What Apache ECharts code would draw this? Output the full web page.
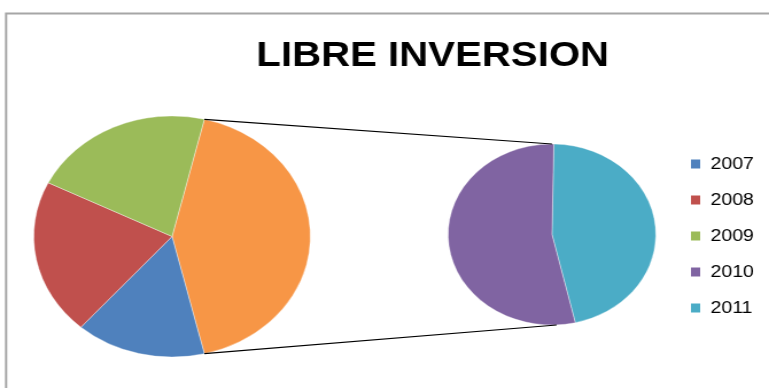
<!DOCTYPE html>
<html>
<head>
<meta charset="utf-8">
<script src="https://cdn.jsdelivr.net/npm/echarts@6/dist/echarts.min.js"></script>
<style>
  html, body { margin: 0; padding: 0; background: #fff; overflow: hidden; }
  #wrap { width: 769px; height: 388px; overflow: hidden; position: relative; }
  #chart { width: 670px; height: 388px; transform: scaleX(1.1478); transform-origin: 0 0; }
</style>
</head>
<body>
<div id="wrap"><div id="chart"></div></div>
<script>
// ---- data ----
var titleText = 'LIBRE INVERSION';
var mainCategories = ['2007', '2008', '2009'];
var mainValues = [15.2, 20.9, 21.4];
var subCategories = ['2011', '2010'];
var subValues = [19.6, 22.9];
var legendOrder = ['2007', '2008', '2009', '2010', '2011'];
var colorsByName = {
  '2007': '#4F81BD', '2008': '#C0504D', '2009': '#9BBB59',
  '2010': '#8064A2', '2011': '#4BACC6', 'Other': '#F79646'
};

// ---- layout (unscaled coordinates) ----
var leftC = [149.9, 236.5], leftR = 120.5;
var rightC = [480.9, 234.5], rightR = 90.5;
var leftStart = 76.5;   // degrees, ECharts convention (90 = top, clockwise)
var rightStart = 89;

var otherValue = subValues.reduce(function (a, b) { return a + b; }, 0);
var mainTotal = otherValue + mainValues.reduce(function (a, b) { return a + b; }, 0);

var mainData = [{ name: 'Other', value: otherValue, itemStyle: { color: colorsByName['Other'] } }];
mainCategories.forEach(function (c, i) {
  mainData.push({ name: c, value: mainValues[i], itemStyle: { color: colorsByName[c] } });
});
var subData = subCategories.map(function (c, i) {
  return { name: c, value: subValues[i], itemStyle: { color: colorsByName[c] } };
});

// connector endpoints computed from the "Other" slice angles
function pt(c, r, degEc) {
  var a = degEc * Math.PI / 180;
  return [c[0] + r * Math.cos(a), c[1] - r * Math.sin(a)];
}
var otherSweep = otherValue / mainTotal * 360;
var pTopL = pt(leftC, leftR, leftStart);
var pBotL = pt(leftC, leftR, leftStart - otherSweep);
var pTopR = [rightC[0], rightC[1] - rightR];
var pBotR = [rightC[0] + 4, rightC[1] + rightR];

var chart = echarts.init(document.getElementById('chart'), null, { renderer: 'canvas' });
var pieCommon = {
  type: 'pie',
  clockwise: true,
  label: { show: false },
  labelLine: { show: false },
  emphasis: { disabled: true },
  silent: true,
  itemStyle: { borderColor: 'rgba(255,255,255,0.6)', borderWidth: 0.6 }
};
chart.setOption({
  animation: false,
  title: {
    text: titleText,
    left: 372,
    top: 34,
    textAlign: 'center',
    textStyle: { fontFamily: 'Liberation Sans, Arial, sans-serif', fontWeight: 'bold', fontSize: 35, color: '#000' }
  },
  legend: {
    orient: 'vertical',
    left: 602,
    top: 154,
    padding: 0,
    itemWidth: 8,
    itemHeight: 9,
    itemGap: 16,
    icon: 'rect',
    selectedMode: false,
    itemStyle: { borderWidth: 0 },
    data: legendOrder,
    textStyle: { fontFamily: 'Liberation Sans, Arial, sans-serif', fontSize: 17, color: '#000', lineHeight: 20, padding: [0, 0, 0, 4] }
  },
  graphic: [
    { type: 'rect', shape: { x: 5.3, y: 13.5, width: 2000, height: 2000 }, style: { fill: 'none', stroke: '#A6A6A6', lineWidth: 2 }, silent: true, z: 0 },
    { type: 'line', shape: { x1: pTopL[0], y1: pTopL[1], x2: pTopR[0], y2: pTopR[1] }, style: { stroke: '#000', lineWidth: 1.2 }, silent: true, z: 10 },
    { type: 'line', shape: { x1: pBotL[0], y1: pBotL[1], x2: pBotR[0], y2: pBotR[1] }, style: { stroke: '#000', lineWidth: 1.2 }, silent: true, z: 10 }
  ],
  series: [
    Object.assign({}, pieCommon, { name: 'main', center: leftC, radius: [0, leftR], startAngle: leftStart, data: mainData }),
    Object.assign({}, pieCommon, { name: 'sub', center: rightC, radius: [0, rightR], startAngle: rightStart, data: subData })
  ]
});
</script>
</body>
</html>
